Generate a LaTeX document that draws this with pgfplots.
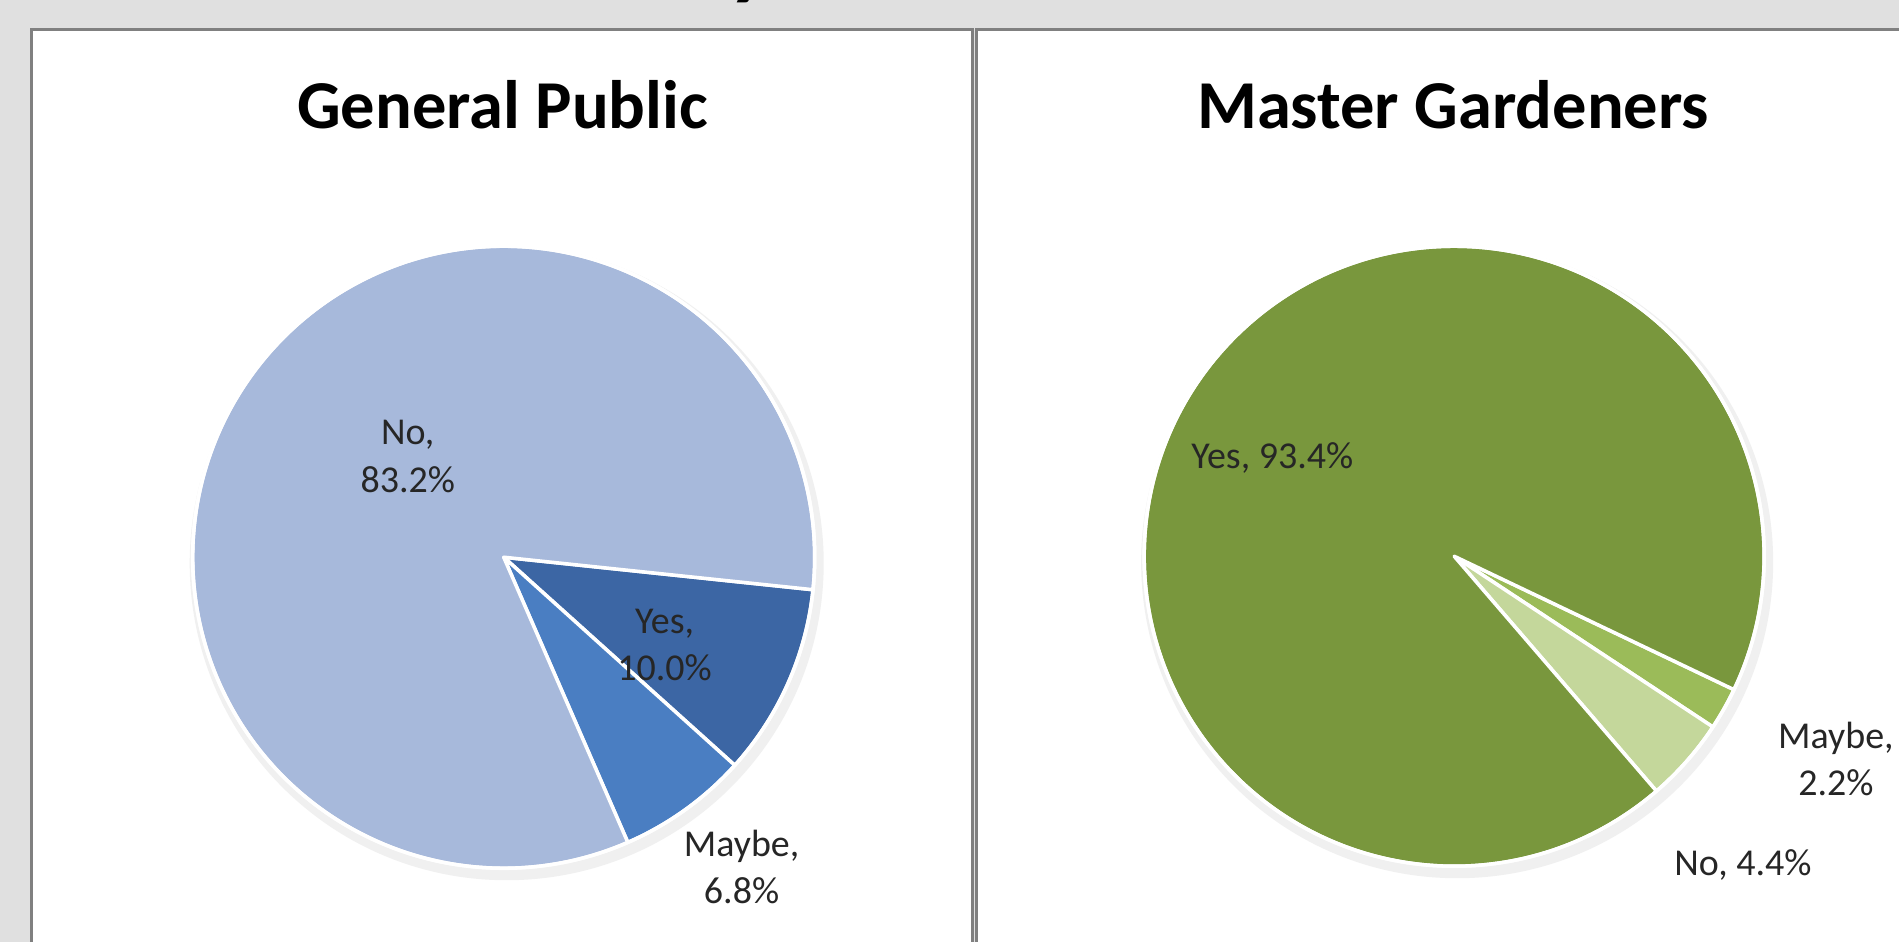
\documentclass[border=0pt]{standalone}
\usepackage{pgfplots}
\pgfplotsset{compat=1.18}
\usepackage{fontspec}
\setmainfont{Carlito}
\definecolor{bg}{RGB}{224,224,224}
\definecolor{frame}{RGB}{128,128,128}
\definecolor{gpNo}{RGB}{167,185,219}
\definecolor{gpYes}{RGB}{60,102,164}
\definecolor{gpMaybe}{RGB}{74,126,194}
\definecolor{mgYes}{RGB}{121,151,61}
\definecolor{mgMaybe}{RGB}{155,187,89}
\definecolor{mgNo}{RGB}{196,215,155}
% \pieslice{cx}{cy}{radius cm}{start angle}{percent}{colour}
\newcommand{\pieslice}[6]{%
  \filldraw[fill=#6, draw=white, line width=1pt, line join=round]
    (axis cs:#1,#2) -- ++({#4}:#3cm) arc[start angle={#4}, delta angle={-3.6*(#5)}, radius=#3cm] -- cycle;}
\newcommand{\pieback}[3]{%
  \fill[black!12] (axis cs:#1+2,#2+4) circle[radius=#3cm+0.04cm];
  \fill[black!6] (axis cs:#1+3,#2+6) circle[radius=#3cm+0.06cm];}
\newcommand{\lbl}{\fontsize{10.8}{13.5}\selectfont}
\begin{document}
\begin{tikzpicture}
\begin{axis}[
  at={(0,0)}, anchor=south west,
  x=0.01cm, y=0.01cm, y dir=reverse,
  xmin=0, xmax=1900, ymin=0, ymax=942,
  hide axis, clip=true,
]
% background and panels
\fill[bg] (axis cs:-10,-10) rectangle (axis cs:1910,960);
\node[anchor=base, font=\fontsize{26}{30}\selectfont\bfseries] at (axis cs:751,-12) {y};
\filldraw[fill=white, draw=frame, line width=0.85pt] (axis cs:31.5,28.5) rectangle (axis cs:973.5,1000);
\filldraw[fill=white, draw=frame, line width=0.85pt] (axis cs:977.5,28.5) rectangle (axis cs:2000,1000);
% titles
\node[font=\fontsize{19.5}{23}\selectfont\bfseries] at (axis cs:503,104) {General Public};
\node[font=\fontsize{19.5}{23}\selectfont\bfseries] at (axis cs:1454,104) {Master Gardeners};
% General Public pie: Yes 10.0, Maybe 6.8, No 83.2
\pieback{504}{557}{3.11}
\pieslice{504}{557}{3.11}{-6}{10.0}{gpYes}
\pieslice{504}{557}{3.11}{-6-3.6*10.0}{6.8}{gpMaybe}
\pieslice{504}{557}{3.11}{-6-3.6*(10.0+6.8)}{83.2}{gpNo}
\draw[white, line width=1pt] (axis cs:504,557) circle[radius=3.11cm];
% Master Gardeners pie: Maybe 2.2, No 4.4, Yes 93.4
\pieback{1455}{556}{3.10}
\pieslice{1455}{556}{3.10}{-25.5}{2.2}{mgMaybe}
\pieslice{1455}{556}{3.10}{-25.5-3.6*2.2}{4.4}{mgNo}
\pieslice{1455}{556}{3.10}{-25.5-3.6*(2.2+4.4)}{93.4}{mgYes}
\draw[white, line width=1pt] (axis cs:1455,556) circle[radius=3.10cm];
% labels
\node[align=center, font=\lbl, text=black!85] at (axis cs:408,456) {No,\\83.2\%};
\node[align=center, font=\lbl, text=black!85] at (axis cs:665,645) {Yes,\\10.0\%};
\node[align=center, font=\lbl, text=black!85] at (axis cs:742,867) {Maybe,\\6.8\%};
\node[align=center, font=\lbl, text=black!85] at (axis cs:1273,458) {Yes, 93.4\%};
\node[align=center, font=\lbl, text=black!85] at (axis cs:1837,759) {Maybe,\\2.2\%};
\node[align=center, font=\lbl, text=black!85] at (axis cs:1744,865) {No, 4.4\%};
\end{axis}
\pgfresetboundingbox
\path[use as bounding box] (0,0) rectangle (19,9.42);
\end{tikzpicture}
\end{document}
